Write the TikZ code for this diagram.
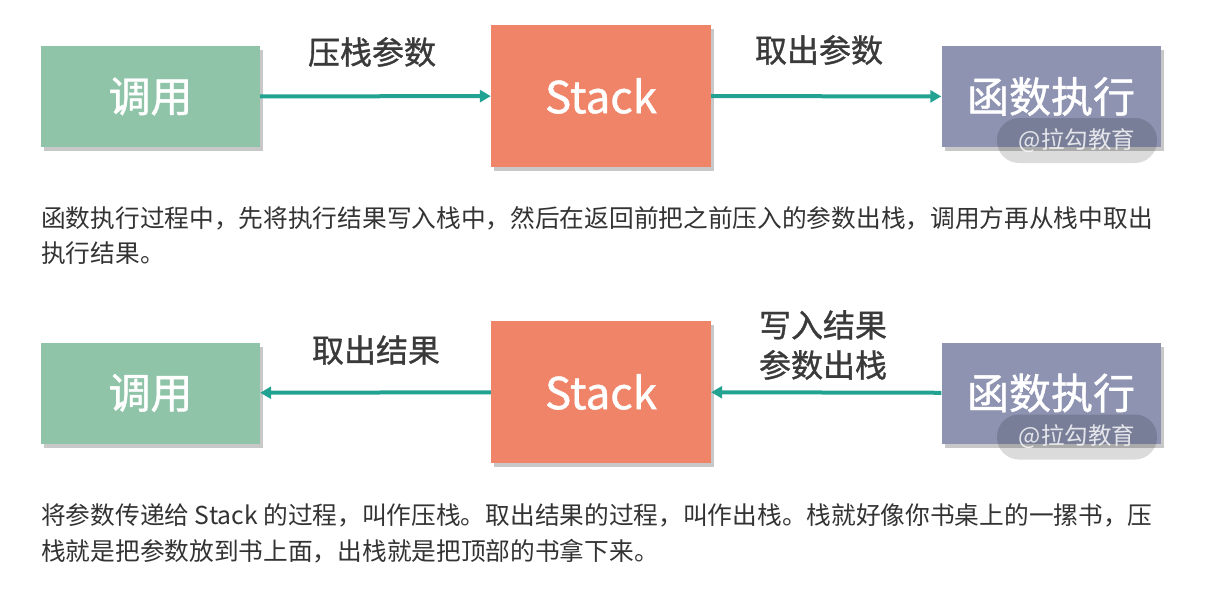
\documentclass[tikz,border=0pt]{standalone}
\usepackage{fontspec}
\setmainfont{Noto Sans CJK SC}
\newfontfamily\cjkm[FakeBold=1]{Noto Sans CJK SC}
\usetikzlibrary{shadows,arrows.meta}
\definecolor{cgreen}{HTML}{8FC4A9}
\definecolor{corange}{HTML}{F08468}
\definecolor{cpurple}{HTML}{8E93B1}
\definecolor{cteal}{HTML}{22A392}
\definecolor{ctext}{HTML}{333333}
\definecolor{clabel}{HTML}{3A3A3A}
\begin{document}
\begin{tikzpicture}[x=1pt,y=-1pt,
  box/.style={minimum width=219pt, minimum height=101pt, inner sep=0pt, text=white,
    font=\cjkm\fontsize{42}{50}\selectfont,
    drop shadow={shadow xshift=3pt, shadow yshift=-4pt, opacity=0.3, fill=black!70}},
  stackbox/.style={box, minimum width=220pt, minimum height=142pt, fill=corange, font=\cjkm\fontsize{44}{50}\selectfont},
  conn/.style={draw=cteal, line width=4pt, -{Triangle[length=11pt,width=12pt]}, shorten >=0pt},
  lbl/.style={text=clabel, font=\cjkm\fontsize{32}{40}\selectfont, inner sep=0pt, align=center},
  para/.style={text=ctext, font=\fontsize{24.7}{35}\selectfont, inner sep=0pt, anchor=west},
  pill/.style={fill=black, fill opacity=0.14, rounded corners=22pt, minimum width=160pt, minimum height=45pt, inner sep=0pt,
    text=white, text opacity=0.8, font=\fontsize{23.5}{26}\selectfont}
]
\useasboundingbox (0,0) rectangle (1206,595);
\fill[white] (0,0) rectangle (1206,595);

% row 1
\node[box, fill=cgreen] (a1) at (150.5,96.5) {调用};
\node[stackbox] (s1) at (601,96) {Stack};
\node[box, fill=cpurple] (f1) at (1051,96.5) {函数执行};
\node[pill] (w1) at (1077,140.5) {@拉勾教育};
\draw[conn] (a1) -- (s1);
\draw[conn] (s1) -- (f1);
\node[lbl] (l1) at (372,52) {压栈参数};
\node[lbl] (l2) at (819,50) {取出参数};

\node[para] (p1a) at (41,218) {函数执行过程中，先将执行结果写入栈中，然后在返回前把之前压入的参数出栈，调用方再从栈中取出};
\node[para] (p1b) at (41,253) {执行结果。};

% row 2
\node[box, fill=cgreen] (a2) at (150.5,393) {调用};
\node[stackbox] (s2) at (601,392) {Stack};
\node[box, fill=cpurple] (f2) at (1051,393) {函数执行};
\node[pill] (w2) at (1077,437) {@拉勾教育};
\draw[conn] (s2) -- (a2);
\draw[conn] (f2) -- (s2);
\node[lbl] (l3) at (376,350) {取出结果};
\node[lbl] (l4) at (823,345) {写入结果\\参数出栈};

\node[para] (p2a) at (41,515) {将参数传递给 Stack 的过程，叫作压栈。取出结果的过程，叫作出栈。栈就好像你书桌上的一摞书，压};
\node[para] (p2b) at (41,551) {栈就是把参数放到书上面，出栈就是把顶部的书拿下来。};
\end{tikzpicture}
\end{document}
